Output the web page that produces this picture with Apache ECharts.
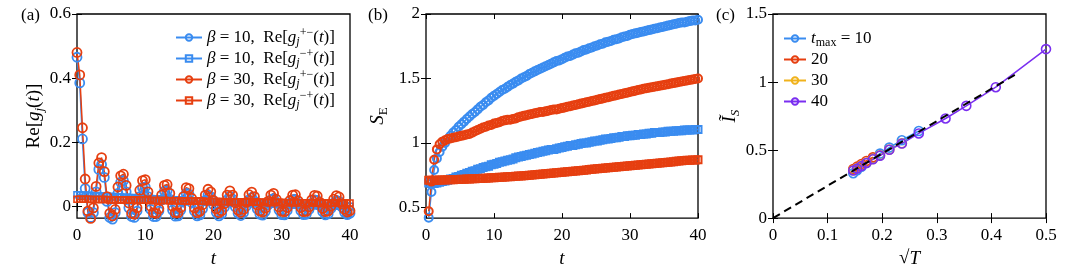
<!DOCTYPE html>
<html><head><meta charset="utf-8">
<script src="https://cdn.jsdelivr.net/npm/echarts@6.0.0/dist/echarts.min.js"></script>
<style>html,body{margin:0;padding:0;background:#fff}#c{width:1080px;height:273px}</style>
</head><body><div id="c"></div>
<script>
// ---------- DATA ----------
// Panel (a): sample times t = 0, 0.4, ..., 40
const A_STEP = 0.4;
const A_B10_PM = [
 0.465,0.385,0.21,0.055,-0.02,-0.035,-0.02,0.045,0.115,0.13,
 0.09,0.015,-0.035,-0.04,-0.02,0.04,0.075,0.08,0.045,-0.005,
 -0.032,-0.035,-0.015,0.03,0.058,0.06,0.03,-0.01,-0.032,-0.032,
 -0.015,0.02,0.047,0.048,0.022,-0.012,-0.031,-0.03,-0.012,0.015,
 0.04,0.038,0.012,-0.015,-0.03,-0.027,-0.008,0.018,0.035,0.03,
 0.005,-0.019,-0.03,-0.024,-0.003,0.02,0.031,0.022,-0.002,-0.022,
 -0.029,-0.02,0.0,0.02,0.027,0.016,-0.008,-0.025,-0.028,-0.016,
 0.004,0.02,0.024,0.01,-0.012,-0.026,-0.027,-0.013,0.006,0.02,
 0.021,0.006,-0.014,-0.026,-0.025,-0.01,0.008,0.019,0.018,0.002,
 -0.017,-0.027,-0.024,-0.007,0.01,0.018,0.015,-0.002,-0.019,-0.026,
 -0.022];
const A_B10_MP = [
 0.036,0.035,0.035,0.034,0.034,0.033,0.033,0.033,0.032,0.032,
 0.031,0.031,0.030,0.030,0.030,0.029,0.029,0.028,0.028,0.027,
 0.027,0.026,0.026,0.025,0.025,0.025,0.024,0.024,0.023,0.023,
 0.022,0.022,0.021,0.021,0.020,0.020,0.020,0.019,0.019,0.018,
 0.018,0.017,0.017,0.016,0.016,0.016,0.015,0.015,0.014,0.014,
 0.013,0.013,0.013,0.012,0.012,0.011,0.011,0.011,0.010,0.010,
 0.010,0.009,0.009,0.009,0.008,0.008,0.008,0.007,0.007,0.007,
 0.006,0.006,0.006,0.006,0.005,0.005,0.005,0.005,0.004,0.004,
 0.004,0.004,0.003,0.003,0.003,0.003,0.003,0.002,0.002,0.002,
 0.002,0.002,0.002,0.001,0.001,0.001,0.001,0.001,0.001,0.000,
 0.000];
const A_B30_PM = [
 0.48,0.41,0.245,0.085,-0.015,-0.038,-0.005,0.062,0.135,0.152,
 0.108,0.03,-0.022,-0.03,-0.01,0.06,0.095,0.1,0.065,0.01,
 -0.022,-0.025,-0.005,0.05,0.08,0.083,0.045,0.0,-0.02,-0.022,
 -0.008,0.035,0.065,0.068,0.04,0.0,-0.02,-0.02,-0.004,0.03,
 0.058,0.055,0.025,-0.005,-0.02,-0.016,0.005,0.035,0.053,0.045,
 0.018,-0.008,-0.02,-0.014,0.008,0.035,0.048,0.035,0.01,-0.012,
 -0.019,-0.01,0.012,0.036,0.044,0.03,0.004,-0.015,-0.018,-0.006,
 0.015,0.035,0.04,0.022,-0.002,-0.016,-0.017,-0.004,0.018,0.035,
 0.036,0.017,-0.004,-0.017,-0.016,-0.002,0.02,0.034,0.032,0.012,
 -0.007,-0.017,-0.015,0.0,0.022,0.033,0.029,0.008,-0.01,-0.018,
 -0.014];
const A_B30_MP = [
 0.022,0.022,0.022,0.022,0.022,0.021,0.021,0.021,0.021,0.021,
 0.021,0.021,0.020,0.020,0.020,0.020,0.020,0.020,0.020,0.020,
 0.019,0.019,0.019,0.019,0.019,0.019,0.019,0.018,0.018,0.018,
 0.018,0.018,0.018,0.018,0.017,0.017,0.017,0.017,0.017,0.017,
 0.016,0.016,0.016,0.016,0.016,0.016,0.016,0.015,0.015,0.015,
 0.015,0.015,0.015,0.015,0.014,0.014,0.014,0.014,0.014,0.014,
 0.014,0.013,0.013,0.013,0.013,0.013,0.013,0.013,0.012,0.012,
 0.012,0.012,0.012,0.012,0.012,0.012,0.011,0.011,0.011,0.011,
 0.011,0.011,0.011,0.011,0.011,0.010,0.010,0.010,0.010,0.010,
 0.010,0.010,0.010,0.010,0.010,0.010,0.010,0.010,0.010,0.010,
 0.010];

// Panel (b): sample times t = 0.4, 0.8, ..., 40
const B_STEP = 0.4;
const B_B10_C = [
 0.42,0.62,0.79,0.88,0.93,0.97,1.00,1.03,1.055,1.08,
 1.10,1.125,1.145,1.165,1.185,1.205,1.225,1.24,1.26,1.28,
 1.295,1.315,1.33,1.35,1.365,1.38,1.395,1.41,1.42,1.435,
 1.45,1.46,1.475,1.485,1.50,1.51,1.52,1.535,1.545,1.555,
 1.565,1.575,1.585,1.595,1.605,1.615,1.625,1.635,1.64,1.65,
 1.66,1.67,1.675,1.685,1.695,1.70,1.71,1.72,1.725,1.735,
 1.74,1.75,1.755,1.765,1.77,1.78,1.785,1.79,1.80,1.805,
 1.81,1.82,1.825,1.83,1.84,1.845,1.85,1.855,1.86,1.865,
 1.87,1.875,1.88,1.885,1.89,1.895,1.90,1.905,1.91,1.915,
 1.92,1.925,1.93,1.935,1.935,1.94,1.945,1.95,1.95,1.955];
const B_B10_S = [
 0.69,0.685,0.685,0.69,0.695,0.70,0.705,0.71,0.72,0.725,
 0.735,0.74,0.75,0.755,0.765,0.77,0.78,0.785,0.795,0.80,
 0.81,0.815,0.82,0.83,0.835,0.84,0.85,0.855,0.86,0.865,
 0.87,0.875,0.885,0.89,0.895,0.90,0.905,0.91,0.915,0.92,
 0.925,0.93,0.935,0.94,0.945,0.95,0.95,0.955,0.96,0.965,
 0.97,0.975,0.98,0.98,0.985,0.99,0.995,1.0,1.0,1.005,
 1.01,1.015,1.015,1.02,1.025,1.03,1.03,1.035,1.04,1.04,
 1.045,1.05,1.05,1.055,1.055,1.06,1.06,1.065,1.065,1.07,
 1.07,1.075,1.075,1.08,1.08,1.08,1.085,1.085,1.09,1.09,
 1.09,1.095,1.095,1.095,1.10,1.10,1.10,1.10,1.105,1.105];
const B_B30_C = [
 0.47,0.70,0.87,0.95,0.99,1.01,1.02,1.03,1.035,1.04,
 1.045,1.05,1.055,1.06,1.065,1.07,1.08,1.09,1.10,1.11,
 1.12,1.125,1.135,1.14,1.15,1.155,1.16,1.17,1.175,1.18,
 1.18,1.185,1.19,1.20,1.205,1.21,1.215,1.22,1.225,1.23,
 1.235,1.24,1.24,1.245,1.25,1.255,1.26,1.26,1.265,1.27,
 1.275,1.28,1.285,1.29,1.295,1.30,1.305,1.31,1.315,1.32,
 1.325,1.33,1.335,1.34,1.345,1.35,1.355,1.36,1.365,1.37,
 1.375,1.38,1.385,1.39,1.395,1.40,1.405,1.41,1.415,1.42,
 1.424,1.428,1.432,1.436,1.44,1.444,1.448,1.452,1.456,1.46,
 1.464,1.468,1.472,1.476,1.48,1.484,1.488,1.492,1.496,1.50];
const B_B30_S = [
 0.71,0.71,0.71,0.711,0.712,0.712,0.713,0.714,0.714,0.715,
 0.716,0.717,0.718,0.719,0.72,0.721,0.722,0.723,0.724,0.725,
 0.726,0.727,0.728,0.729,0.73,0.731,0.733,0.734,0.735,0.737,
 0.738,0.74,0.741,0.743,0.744,0.746,0.748,0.749,0.751,0.753,
 0.755,0.757,0.759,0.761,0.763,0.765,0.767,0.769,0.771,0.773,
 0.775,0.777,0.779,0.781,0.783,0.785,0.787,0.789,0.791,0.793,
 0.795,0.797,0.799,0.801,0.803,0.805,0.807,0.809,0.811,0.813,
 0.815,0.817,0.819,0.821,0.823,0.825,0.827,0.829,0.831,0.833,
 0.835,0.837,0.839,0.841,0.843,0.845,0.847,0.849,0.851,0.853,
 0.855,0.857,0.859,0.861,0.863,0.865,0.866,0.867,0.868,0.87];

// Panel (c)
const C_SQRT_T = [0.5,0.408,0.354,0.316,0.267,0.236,0.213,0.196,0.183,0.171,0.162,0.154,0.147];
const C_T10 = [null,null,null,null,0.64,0.572,0.518,0.474,0.438,0.405,0.377,0.352,0.33];
const C_T20 = [null,null,null,null,null,null,null,null,0.447,0.42,0.398,0.378,0.36];
const C_T30 = [null,null,null,null,null,0.55,0.504,0.462,0.434,0.407,0.386,0.368,0.352];
const C_T40 = [1.242,0.962,0.825,0.732,0.622,0.548,0.502,0.459,0.432,0.405,0.383,0.365,0.35];
const C_FIT_X = [0, 0.447];
const C_FIT_Y = [0, 1.062];

// Ticks
const A_YTICKS = [0,0.2,0.4,0.6];
const B_YTICKS = [0.5,1,1.5,2];

// ---------- STYLE ----------
const F = '"Liberation Serif", "Times New Roman", serif';
const BLUE = '#3a8cf0', RED = '#e63f10', YEL = '#f0b21c', PUR = '#7a2ef0';

const tA = A_B10_PM.map((_, k) => +(k * A_STEP).toFixed(1));
const tB = B_B10_C.map((_, k) => +((k + 1) * B_STEP).toFixed(1));

const RICH = {
  n: {fontFamily: F, fontSize: 17, color: '#000', lineHeight: 21},
  i: {fontFamily: F, fontSize: 17, fontStyle: 'italic', color: '#000', lineHeight: 21},
  sub: {fontFamily: F, fontSize: 12, fontStyle: 'italic', color: '#000', verticalAlign: 'bottom', lineHeight: 12},
  subr: {fontFamily: F, fontSize: 12, color: '#000', verticalAlign: 'bottom', lineHeight: 12},
  sup: {fontFamily: F, fontSize: 12, color: '#000', verticalAlign: 'top', lineHeight: 12}
};
const RICH_NAME = {
  n: {fontFamily: F, fontSize: 19, color: '#000', lineHeight: 24},
  i: {fontFamily: F, fontSize: 19, fontStyle: 'italic', color: '#000', lineHeight: 24},
  sub: {fontFamily: F, fontSize: 13, fontStyle: 'italic', color: '#000', verticalAlign: 'bottom', lineHeight: 14},
  subr: {fontFamily: F, fontSize: 13, color: '#000', verticalAlign: 'bottom', lineHeight: 14}
};
const RICH_TICK = {d: {fontFamily: F, fontSize: 17, color: '#000'}};
const tickFmt = v => '{d|' + (+v.toFixed(3)) + '}';

const LEG = {
  a1: '{i|β}{n| = 10,  Re[}{i|g}{sub|j}{sup|+−}{n|(}{i|t}{n|)]}',
  a2: '{i|β}{n| = 10,  Re[}{i|g}{sub|j}{sup|−+}{n|(}{i|t}{n|)]}',
  a3: '{i|β}{n| = 30,  Re[}{i|g}{sub|j}{sup|+−}{n|(}{i|t}{n|)]}',
  a4: '{i|β}{n| = 30,  Re[}{i|g}{sub|j}{sup|−+}{n|(}{i|t}{n|)]}',
  c1: '{i|t}{subr|max}{n| = 10}',
  c2: '{n|20}', c3: '{n|30}', c4: '{n|40}'
};

const TICKSTYLE = {color: '#000', width: 1};
function xAxes(gi, min, max, interval, name, gap) {
  return [{
    gridIndex: gi, type: 'value', min, max, interval, position: 'bottom',
    axisLine: {show: false}, splitLine: {show: false},
    axisTick: {inside: true, length: 5, lineStyle: TICKSTYLE},
    axisLabel: {formatter: tickFmt, rich: RICH_TICK, margin: 9},
    name, nameLocation: 'middle', nameGap: gap,
    nameTextStyle: {rich: RICH_NAME}
  }, {
    gridIndex: gi, type: 'value', min, max, interval, position: 'top',
    axisLine: {show: false}, splitLine: {show: false},
    axisTick: {inside: true, length: 5, lineStyle: TICKSTYLE},
    axisLabel: {show: false}
  }];
}
function yAxes(gi, min, max, interval, ticks, name, gap) {
  const base = {gridIndex: gi, type: 'value', min, max, splitLine: {show: false}, axisLine: {show: false}};
  if (interval) base.interval = interval;
  const tick = {inside: true, length: 5, lineStyle: TICKSTYLE};
  if (ticks) tick.customValues = ticks;
  const lab = {formatter: tickFmt, rich: RICH_TICK, margin: 6};
  if (ticks) lab.customValues = ticks;
  return [Object.assign({}, base, {
    position: 'left', axisTick: tick, axisLabel: lab,
    name, nameLocation: 'middle', nameGap: gap, nameRotate: 90,
    nameTextStyle: {rich: RICH_NAME}
  }), Object.assign({}, base, {
    position: 'right', axisTick: tick, axisLabel: {show: false}
  })];
}

function line(name, xi, xs, ys, color, symbol, size, bw) {
  const data = [];
  ys.forEach((v, k) => { if (v !== null) data.push([xs[k], v]); });
  return {
    name, type: 'line', xAxisIndex: xi, yAxisIndex: xi, data,
    symbol, symbolSize: size, showSymbol: true, clip: false,
    lineStyle: {color, width: 1.5},
    itemStyle: {color: 'rgba(255,255,255,0)', borderColor: color, borderWidth: bw || 1.6},
    emphasis: {disabled: true}, z: 2
  };
}

const series = [
  line('a1', 0, tA, A_B10_PM, BLUE, 'circle', 9, 1.8),
  line('a2', 0, tA, A_B10_MP, BLUE, 'rect', 6, 1.6),
  line('a3', 0, tA, A_B30_PM, RED, 'circle', 9, 1.8),
  line('a4', 0, tA, A_B30_MP, RED, 'rect', 6, 1.6),
  line('b1', 2, tB, B_B10_C, BLUE, 'circle', 8, 2),
  line('b2', 2, tB, B_B10_S, BLUE, 'rect', 7, 2),
  line('b3', 2, tB, B_B30_C, RED, 'circle', 8, 2),
  line('b4', 2, tB, B_B30_S, RED, 'rect', 7, 2),
  line('c1', 4, C_SQRT_T, C_T10, BLUE, 'circle', 9, 1.6),
  line('c2', 4, C_SQRT_T, C_T20, RED, 'circle', 9, 1.6),
  line('c3', 4, C_SQRT_T, C_T30, YEL, 'circle', 9, 1.6),
  line('c4', 4, C_SQRT_T, C_T40, PUR, 'circle', 9, 1.6),
  {name: 'fit', type: 'line', xAxisIndex: 4, yAxisIndex: 4, data: C_FIT_X.map((x, k) => [x, C_FIT_Y[k]]),
   symbol: 'none', lineStyle: {color: '#000', width: 2, type: [8, 5]}, z: 3, emphasis: {disabled: true}}
];

const legendBase = {
  orient: 'vertical', itemGap: 0, itemWidth: 26, itemHeight: 8, selectedMode: false,
  formatter: n => LEG[n], textStyle: {rich: RICH, lineHeight: 21}
};

const option = {
  animation: false,
  grid: [
    {left: 77, top: 14, width: 273, height: 209, show: true, borderColor: '#000', borderWidth: 1.3, backgroundColor: 'transparent'},
    {left: 426, top: 14, width: 272, height: 209, show: true, borderColor: '#000', borderWidth: 1.3, backgroundColor: 'transparent'},
    {left: 773, top: 14, width: 273, height: 209, show: true, borderColor: '#000', borderWidth: 1.3, backgroundColor: 'transparent'}
  ],
  xAxis: [].concat(
    xAxes(0, 0, 40, 10, '{i|t}', 24),
    xAxes(1, 0, 40, 10, '{i|t}', 24),
    xAxes(2, 0, 0.5, 0.1, '{n|√}{i|T}', 24)
  ),
  yAxis: [].concat(
    yAxes(0, -0.037, 0.6, null, A_YTICKS, '{n|Re[}{i|g}{sub|j}{n|(}{i|t}{n|)]}', 27),
    yAxes(1, 0.417, 2, null, B_YTICKS, '{i|S}{subr|E}', 36),
    yAxes(2, 0, 1.5, 0.5, null, '{i|Ĩ}{sub|S}', 31)
  ),
  legend: [
    Object.assign({}, legendBase, {left: 170, top: 22, data: ['a1', 'a2', 'a3', 'a4']}),
    Object.assign({}, legendBase, {left: 778, top: 23, itemWidth: 22, data: ['c1', 'c2', 'c3', 'c4'], textStyle: {rich: RICH, lineHeight: 20}})
  ],
  graphic: [
    {type: 'text', left: 21, top: 7, style: {text: '(a)', font: '17px "Liberation Serif"', fill: '#000'}},
    {type: 'text', left: 368, top: 7, style: {text: '(b)', font: '17px "Liberation Serif"', fill: '#000'}},
    {type: 'text', left: 716, top: 7, style: {text: '(c)', font: '17px "Liberation Serif"', fill: '#000'}}
  ],
  series
};
echarts.init(document.getElementById('c'), null, {renderer: 'canvas'}).setOption(option);
</script></body></html>
